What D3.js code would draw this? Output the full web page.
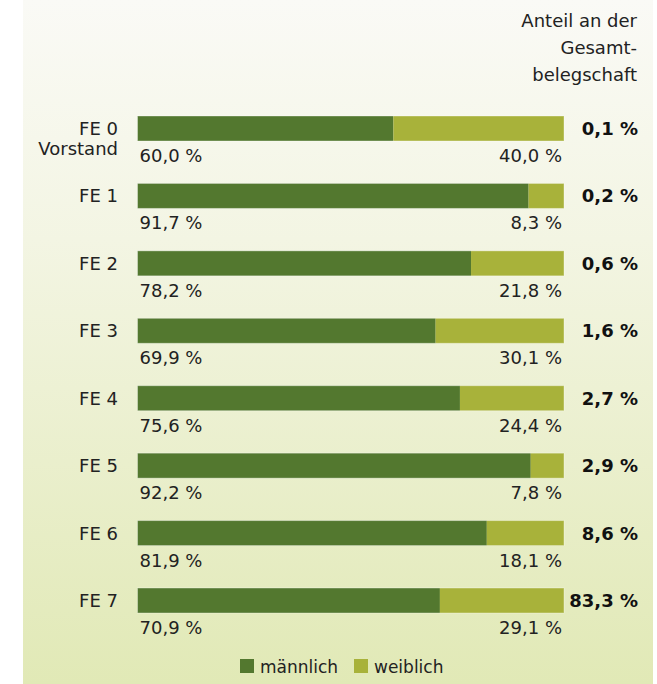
<!DOCTYPE html>
<html>
<head>
<meta charset="utf-8">
<script src="https://cdn.jsdelivr.net/npm/d3@7"></script>
<style>
  html, body { margin: 0; padding: 0; background: #ffffff; }
  svg { display: block; }
  text { font-family: "DejaVu Sans", sans-serif; }
</style>
</head>
<body>
<svg id="chart" width="657" height="684"></svg>
<script>
// Führungsebenen und Anteile nach Geschlecht
const categories = ["FE 0", "FE 1", "FE 2", "FE 3", "FE 4", "FE 5", "FE 6", "FE 7"];
const subLabels = ["Vorstand", "", "", "", "", "", "", ""];
const maennlich = [60.0, 91.7, 78.2, 69.9, 75.6, 92.2, 81.9, 70.9];
const weiblich = [40.0, 8.3, 21.8, 30.1, 24.4, 7.8, 18.1, 29.1];
const anteilGesamt = [0.1, 0.2, 0.6, 1.6, 2.7, 2.9, 8.6, 83.3];
const seriesNames = ["männlich", "weiblich"];
const headerLines = ["Anteil an der", "Gesamt-", "belegschaft"];

const colors = { maennlich: "#53782f", weiblich: "#a8b23a" };
const fmt = v => d3.format(".1f")(v).replace(".", ",") + " %";

const svg = d3.select("#chart");
const W = 657, H = 684;

// Hintergrund mit Verlauf
const defs = svg.append("defs");
const grad = defs.append("linearGradient")
  .attr("id", "bg").attr("x1", 0).attr("y1", 0).attr("x2", 0).attr("y2", 1);
grad.append("stop").attr("offset", "0%").attr("stop-color", "#fafaf6");
grad.append("stop").attr("offset", "35%").attr("stop-color", "#f3f5e3");
grad.append("stop").attr("offset", "100%").attr("stop-color", "#e1e9b6");
svg.append("rect").attr("x", 23).attr("y", 0).attr("width", 630).attr("height", H)
  .attr("fill", "url(#bg)");

const x = d3.scaleLinear().domain([0, 100]).range([137.5, 564]);
const y = d3.scaleBand().domain(categories).range([116, 116 + 8 * 67.43]).paddingInner(0).paddingOuter(0);
const barH = 25;
const fs = 18;

const rows = categories.map((c, i) => ({
  cat: c, sub: subLabels[i], m: maennlich[i], w: weiblich[i], total: anteilGesamt[i]
}));

// Kopfzeile rechts
svg.append("text")
  .attr("text-anchor", "end")
  .attr("font-size", fs)
  .attr("fill", "#222")
  .selectAll("tspan").data(headerLines).join("tspan")
  .attr("x", 637)
  .attr("y", (d, i) => 27 + i * 27)
  .text(d => d);

const g = svg.append("g").selectAll("g").data(rows).join("g")
  .attr("transform", d => `translate(0,${y(d.cat)})`);

// Balken männlich
g.append("rect")
  .attr("x", x(0))
  .attr("y", 0)
  .attr("width", d => x(d.m) - x(0))
  .attr("height", barH)
  .attr("fill", colors.maennlich);

// Balken weiblich
g.append("rect")
  .attr("x", d => x(d.m))
  .attr("y", 0)
  .attr("width", d => x(d.m + d.w) - x(d.m))
  .attr("height", barH)
  .attr("fill", colors.weiblich);

// feine helle Kontur
g.append("rect")
  .attr("x", x(0))
  .attr("y", 0)
  .attr("width", d => x(d.m + d.w) - x(0))
  .attr("height", barH)
  .attr("fill", "none")
  .attr("stroke", "rgba(255,255,255,0.35)")
  .attr("stroke-width", 1);

// Kategorie-Beschriftung
g.append("text")
  .attr("x", 118)
  .attr("y", 19)
  .attr("text-anchor", "end")
  .attr("font-size", fs)
  .attr("fill", "#222")
  .text(d => d.cat);
g.filter(d => d.sub).append("text")
  .attr("x", 118)
  .attr("y", 39)
  .attr("text-anchor", "end")
  .attr("font-size", fs)
  .attr("fill", "#222")
  .text(d => d.sub);

// Werte unter den Balken
g.append("text")
  .attr("x", x(0) + 2)
  .attr("y", 46)
  .attr("font-size", fs)
  .attr("fill", "#222")
  .text(d => fmt(d.m));
g.append("text")
  .attr("x", d => x(d.m + d.w) - 2)
  .attr("y", 46)
  .attr("text-anchor", "end")
  .attr("font-size", fs)
  .attr("fill", "#222")
  .text(d => fmt(d.w));

// Anteil an der Gesamtbelegschaft
g.append("text")
  .attr("x", 638)
  .attr("y", 19)
  .attr("text-anchor", "end")
  .attr("font-size", fs)
  .attr("font-weight", "bold")
  .attr("fill", "#111")
  .text(d => fmt(d.total));

// Legende
const legend = svg.append("g").attr("transform", "translate(240,659)");
const legendX = [0, 114];
seriesNames.forEach((name, i) => {
  const lg = legend.append("g").attr("transform", `translate(${legendX[i]},0)`);
  lg.append("rect").attr("width", 14).attr("height", 14)
    .attr("fill", i === 0 ? colors.maennlich : colors.weiblich);
  lg.append("text").attr("x", 20).attr("y", 14)
    .attr("font-size", 17).attr("fill", "#222").text(name);
});
</script>
</body>
</html>
